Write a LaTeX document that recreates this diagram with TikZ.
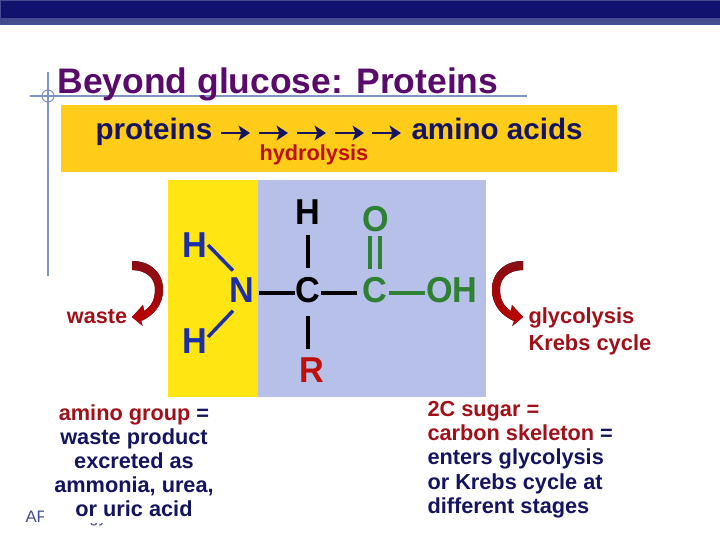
\documentclass[tikz,border=0pt]{standalone}
\usepackage{fontspec}
\setmainfont{Liberation Sans}
\newfontfamily\atomfont[FakeStretch=0.95]{Liberation Sans}
\usetikzlibrary{calc,arrows.meta}
\definecolor{barnavy}{RGB}{16,18,110}
\definecolor{barlight}{RGB}{68,76,144}
\definecolor{guideblue}{RGB}{127,148,196}
\definecolor{titlepurple}{RGB}{90,10,106}
\definecolor{textnavy}{RGB}{20,20,96}
\definecolor{wastered}{RGB}{160,16,24}
\definecolor{hydrored}{RGB}{190,16,10}
\definecolor{boxorange}{RGB}{255,204,26}
\definecolor{boxyellow}{RGB}{255,230,18}
\definecolor{boxblue}{RGB}{182,192,232}
\definecolor{aminoblue}{RGB}{28,47,168}
\definecolor{acidgreen}{RGB}{46,128,51}
\tikzset{every picture/.style={line width=0.75pt},
  caption/.style={inner sep=0pt,font=\bfseries\fontsize{16.3}{18.1}\selectfont},
  atom/.style={inner sep=0pt,text height=14.5pt,text depth=0pt,font=\atomfont\bfseries\fontsize{27}{27}\selectfont},
  bond/.style={line width=3pt},
  bendarrow/.style={top color=wastered!85!black,bottom color=red!75!black,draw=none},
}
\begin{document}
\begin{tikzpicture}[x=0.75pt,y=0.75pt,yscale=-1,xscale=1]
	\useasboundingbox (0,0) rectangle (720,540);
	%top bar
	\fill [barlight] (0,0) rectangle (720,25);
	\fill [barnavy] (1,1) rectangle (720,18);
	%guides
	\draw [guideblue,line width=1.2pt] (48,72) -- (48,276);
	\draw [guideblue,line width=1.2pt] (30,96) -- (527,96);
	\draw [guideblue] (48,96) circle (6);
	\node [anchor=base west,inner sep=0pt,text=titlepurple,font=\bfseries\fontsize{26.6}{30}\selectfont] (title) at (57,93) {Beyond glucose: Proteins};
	%footer and left text, its white box hides most of the footer
	\node [anchor=base west,inner sep=0pt,text=barlight,font=\fontsize{12.5}{14}\selectfont] (apbio) at (25,522) {AP Biology};
	\node [caption,text=textnavy,align=center,fill=white,inner xsep=8pt,inner ysep=5pt] (aminotext) at (134,460.5) {\textcolor{wastered}{amino group} =\\waste product\\excreted as\\ammonia, urea,\\or uric acid};
	%boxes
	\fill [boxorange] (61,105) rectangle (617,172);
	\fill [boxyellow] (168,180) rectangle (258,397);
	\fill [boxblue] (258,180) rectangle (486,397);
	%reaction line
	\node [anchor=base west,inner sep=0pt,text=textnavy,font=\bfseries\fontsize{22.2}{26}\selectfont] (proteins) at (95,139) {proteins};
	\node [anchor=base west,inner sep=0pt,text=textnavy,font=\bfseries\fontsize{22.2}{26}\selectfont] (aminoacids) at (411,139) {amino acids};
	\node [anchor=base west,inner sep=0pt,text=hydrored,font=\bfseries\fontsize{16.3}{20}\selectfont] (hydrolysis) at (259,160) {hydrolysis};
	\foreach \i/\x in {1/221,2/259,3/297,4/335,5/372}{
		\coordinate (s\i) at (\x,133);
		\coordinate (e\i) at (\x+29,133);
		\draw [-{Stealth[length=8.5pt,width=11pt,inset=2pt]},textnavy,line width=2.2pt] (s\i) -- (e\i);
	}
	%molecule
	\node [atom,text=black] (Htop) at (308,215) {H};
	\node [atom,text=aminoblue] (Hup) at (194.5,248) {H};
	\node [atom,text=aminoblue] (Hlow) at (194.5,344) {H};
	\node [atom,text=aminoblue] (N) at (242,292.7) {N};
	\node [atom,text=black] (Cmid) at (307.5,292.7) {C};
	\node [atom,text=hydrored] (R) at (312,373) {R};
	\node [atom,text=acidgreen] (O) at (376,222) {O};
	\node [atom,text=acidgreen] (Cacid) at (375,292.7) {C};
	\node [atom,text=acidgreen] (OH) at (452,292.7) {OH};
	\draw [bond,aminoblue,line width=2.6pt] ($(Hup.center)+(13.5,-3)$) -- ($(N.center)+(-9,-22)$);
	\draw [bond,aminoblue,line width=2.6pt] ($(Hlow.center)+(13.5,-7)$) -- ($(N.center)+(-9,18)$);
	\draw [bond] ($(N.center)+(17,0)$) -- ($(Cmid.center)+(-12.5,0)$);
	\draw [bond] ($(Cmid.center)+(13.5,0)$) -- ($(Cacid.center)+(-18,0)$);
	\draw [bond] ($(Htop.center)+(0,20)$) -- ($(Cmid.center)+(0.5,-25)$);
	\draw [bond] ($(Cmid.center)+(0.5,23)$) -- ($(R.center)+(-4,-24)$);
	\draw [bond,acidgreen] ($(O.center)+(-6,14)$) -- ($(Cacid.center)+(-5,-24)$);
	\draw [bond,acidgreen] ($(O.center)+(4,14)$) -- ($(Cacid.center)+(5,-24)$);
	\draw [bond,acidgreen] ($(Cacid.center)+(14,0)$) -- ($(OH.center)+(-27,0)$);
	%bent arrows
	\fill [bendarrow] (132,261) .. controls (150,261) and (163,272) .. (163,290) .. controls (163,305) and (153,316) .. (141,321) -- (142.7,326) -- (132,317) -- (143,305) -- (144,311) .. controls (152,306) and (155,299) .. (155,289) .. controls (155,278) and (146,270) .. (132,270) -- cycle;
	\fill [bendarrow] (523,261) .. controls (505,261) and (492,272) .. (492,290) .. controls (492,305) and (502,316) .. (514,321) -- (512.3,326) -- (523,317) -- (512,305) -- (511,311) .. controls (503,306) and (500,299) .. (500,289) .. controls (500,278) and (509,270) .. (523,270) -- cycle;
	%labels
	\node [caption,text=wastered,font=\bfseries\fontsize{16.2}{20}\selectfont] (waste) at (97,317) {waste};
	\node [caption,text=wastered,anchor=north west,align=left,font=\bfseries\fontsize{16.4}{20}\selectfont] (glyco) at (528,307.5) {glycolysis\\Krebs cycle};
	\node [caption,text=textnavy,anchor=north west,align=left] (sugartext) at (427,401) {\textcolor{wastered}{2C sugar =}\\\textcolor{wastered}{carbon skeleton} =\\enters glycolysis\\or Krebs cycle at\\different stages};
\end{tikzpicture}
\end{document}
